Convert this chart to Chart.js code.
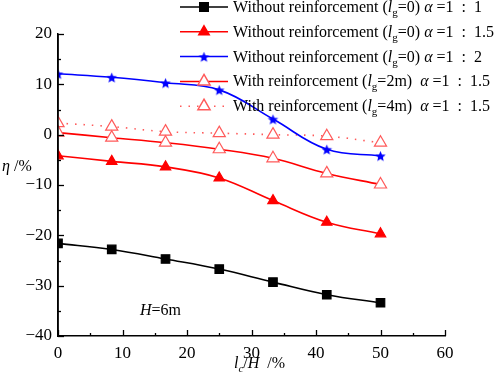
<!DOCTYPE html>
<html>
<head>
<meta charset="utf-8">
<script src="https://cdn.jsdelivr.net/npm/chart.js@4"></script>
<style>
html, body { margin: 0; padding: 0; background: #fff; }
#wrap { width: 498px; height: 374px; position: relative; font-family: "Liberation Serif"; }
</style>
</head>
<body>
<div id="wrap"><canvas id="c"></canvas></div>
<script>
// lc/H [%]
const lcH = [0, 8.33, 16.67, 25, 33.33, 41.67, 50]
// η [%]
const noReinf11 = [-21.6, -22.8, -24.7, -26.7, -29.3, -31.8, -33.4]
const noReinf115 = [-4.2, -5.3, -6.4, -8.6, -13.1, -17.4, -19.7]
const noReinf12 = [12.1, 11.4, 10.3, 8.9, 3.1, -2.9, -4.2]
const reinf2m = [0.4, -0.6, -1.6, -2.9, -4.7, -7.7, -9.9]
const reinf4m = [2.3, 1.6, 0.6, 0.3, 0.0, -0.3, -1.6]

const xTicks = [0, 10, 20, 30, 40, 50, 60]
const yTicks = [-40, -30, -20, -10, 0, 10, 20]

const serif = '"Liberation Serif", serif'
const lightRed = 'rgb(255,90,90)'

// 塗りつぶしの星マーカー
function starCanvas(r, color) {
    const cv = document.createElement('canvas')
    cv.width = r * 2 + 2
    cv.height = r * 2 + 2
    const g = cv.getContext('2d')
    g.fillStyle = color
    g.beginPath()
    for (let i = 0; i < 10; i++) {
        const rad = i % 2 == 0 ? r : r * 0.45
        const a = -Math.PI / 2 + i * Math.PI / 5
        const px = r + 1 + rad * Math.cos(a)
        const py = r + 1 + rad * Math.sin(a) + 0.7
        if (i == 0) g.moveTo(px, py)
        else g.lineTo(px, py)
    }
    g.closePath()
    g.fill()
    return cv
}
const star = starCanvas(5.5, '#0000ff')

function pts(arr) {
    return lcH.map((x, i) => ({ x: x, y: arr[i] }))
}

const series = [
    { data: noReinf11, color: '#000', style: 'rect', r: 6, fill: '#000', dash: [], lead: 'Without reinforcement (', sub: '=0)', tail: ' =1  :  1' },
    { data: noReinf115, color: '#ff0000', style: 'triangle', r: 6, fill: '#ff0000', dash: [], lead: 'Without reinforcement (', sub: '=0)', tail: ' =1  :  1.5' },
    { data: noReinf12, color: '#0000ff', style: star, r: 5.5, fill: '#0000ff', dash: [], lead: 'Without reinforcement (', sub: '=0)', tail: ' =1  :  2' },
    { data: reinf2m, color: '#ff0000', pc: lightRed, style: 'triangle', r: 7, fill: '#fff', dash: [], lead: 'With reinforcement (', sub: '=2m) ', tail: ' =1  :  1.5' },
    { data: reinf4m, color: lightRed, pc: lightRed, style: 'triangle', r: 7, fill: '#fff', dash: [1.5, 7], lead: 'With reinforcement (', sub: '=4m) ', tail: ' =1  :  1.5' },
]

// 左軸の外側ははみ出さないように切り取る
const clipLeft = {
    id: 'clipLeft',
    beforeDatasetsDraw(chart) {
        const ctx = chart.ctx
        ctx.save()
        ctx.beginPath()
        ctx.rect(chart.chartArea.left, 0, chart.width, chart.height)
        ctx.clip()
    },
    afterDatasetsDraw(chart) {
        chart.ctx.restore()
    }
}

// 内向きの目盛り
const innerTicks = {
    id: 'innerTicks',
    afterDraw(chart) {
        const ctx = chart.ctx
        const xs = chart.scales.x, ys = chart.scales.y
        const a = chart.chartArea
        ctx.save()
        ctx.strokeStyle = '#000'
        ctx.lineWidth = 1.5
        ctx.beginPath(); ctx.moveTo(a.left, a.top); ctx.lineTo(a.left, a.bottom); ctx.stroke()
        ctx.lineWidth = 1.3
        for (let v = 0; v <= 60; v += 5) {
            const px = Math.round(xs.getPixelForValue(v)) + 0.5
            const len = v % 10 == 0 ? 6 : 3
            ctx.beginPath(); ctx.moveTo(px, a.bottom); ctx.lineTo(px, a.bottom - len); ctx.stroke()
        }
        for (let v = -40; v <= 20; v += 5) {
            const py = Math.round(ys.getPixelForValue(v)) + 0.5
            const len = v % 10 == 0 ? 6 : 3
            ctx.beginPath(); ctx.moveTo(a.left, py); ctx.lineTo(a.left + len, py); ctx.stroke()
        }
        ctx.restore()
    }
}

// テキスト（斜体・下付き）を順に描く
function richText(ctx, x, y, parts) {
    for (const p of parts) {
        const size = p.small ? 11 : 16
        ctx.font = (p.italic ? 'italic ' : '') + size + 'px ' + serif
        ctx.fillText(p.t, x, y + (p.small ? 4 : 0))
        x += ctx.measureText(p.t).width
    }
    return x
}

const labelsPlugin = {
    id: 'labelsPlugin',
    afterDraw(chart) {
        const ctx = chart.ctx
        ctx.save()
        ctx.fillStyle = '#000'
        ctx.textBaseline = 'alphabetic'
        // 凡例
        for (let i = 0; i < series.length; i++) {
            const s = series[i]
            const y = 7 + i * 24.8
            ctx.strokeStyle = s.color
            ctx.lineWidth = 1.5
            ctx.setLineDash(s.dash)
            ctx.beginPath(); ctx.moveTo(180, y); ctx.lineTo(228, y); ctx.stroke()
            ctx.setLineDash([])
            ctx.fillStyle = s.fill
            ctx.strokeStyle = s.pc || s.color
            Chart.helpers.drawPoint(ctx, { pointStyle: s.style, radius: s.r, borderWidth: 1.2, rotation: 0 }, 204, y)
            ctx.fillStyle = '#000'
            richText(ctx, 233, y + 5, [
                { t: s.lead }, { t: 'l', italic: true }, { t: 'g', small: true },
                { t: s.sub + ' ' }, { t: 'α', italic: true }, { t: s.tail }
            ])
        }
        // 軸タイトル
        richText(ctx, 2, 171, [{ t: 'η', italic: true }, { t: ' /%' }])
        richText(ctx, 234, 368, [{ t: 'l', italic: true }, { t: 'c', small: true, italic: true }, { t: '/' }, { t: 'H', italic: true }, { t: '  /%' }])
        richText(ctx, 140, 315, [{ t: 'H', italic: true }, { t: '=6m' }])
        ctx.restore()
    }
}

function drawChart() {
    new Chart(document.getElementById('c'), {
        type: 'line',
        data: {
            datasets: series.map(s => ({
                data: pts(s.data),
                borderColor: s.color,
                borderWidth: 1.6,
                borderDash: s.dash,
                backgroundColor: s.fill,
                pointStyle: s.style,
                pointRadius: s.r,
                pointBorderColor: s.pc || s.color,
                pointBackgroundColor: s.fill,
                pointBorderWidth: 1.2,
                tension: 0.4,
                fill: false,
            }))
        },
        options: {
            responsive: true,
            maintainAspectRatio: false,
            animation: false,
            layout: { padding: { top: 34, right: 53, left: 0, bottom: 0 } },
            plugins: { legend: { display: false }, tooltip: { enabled: false } },
            scales: {
                x: {
                    type: 'linear', min: 0, max: 60,
                    afterBuildTicks: s => { s.ticks = xTicks.map(v => ({ value: v })) },
                    afterFit: s => { s.height = 38 },
                    grid: { display: false, drawTicks: false },
                    border: { display: true, color: '#000', width: 1.5 },
                    ticks: { color: '#000', padding: 7, font: { family: serif, size: 17 } },
                },
                y: {
                    min: -40, max: 20,
                    afterBuildTicks: s => { s.ticks = yTicks.map(v => ({ value: v })) },
                    afterFit: s => { s.width = 58 },
                    grid: { display: false, drawTicks: false },
                    border: { display: true, color: '#000', width: 1.5 },
                    ticks: { color: '#000', padding: 6, font: { family: serif, size: 17 }, callback: v => String(v).replace('-', '−') },
                }
            }
        },
        plugins: [clipLeft, innerTicks, labelsPlugin]
    })
}

Promise.all([
    document.fonts.load('16px "Liberation Serif"'),
    document.fonts.load('italic 16px "Liberation Serif"')
]).then(drawChart, drawChart)
</script>
</body>
</html>
